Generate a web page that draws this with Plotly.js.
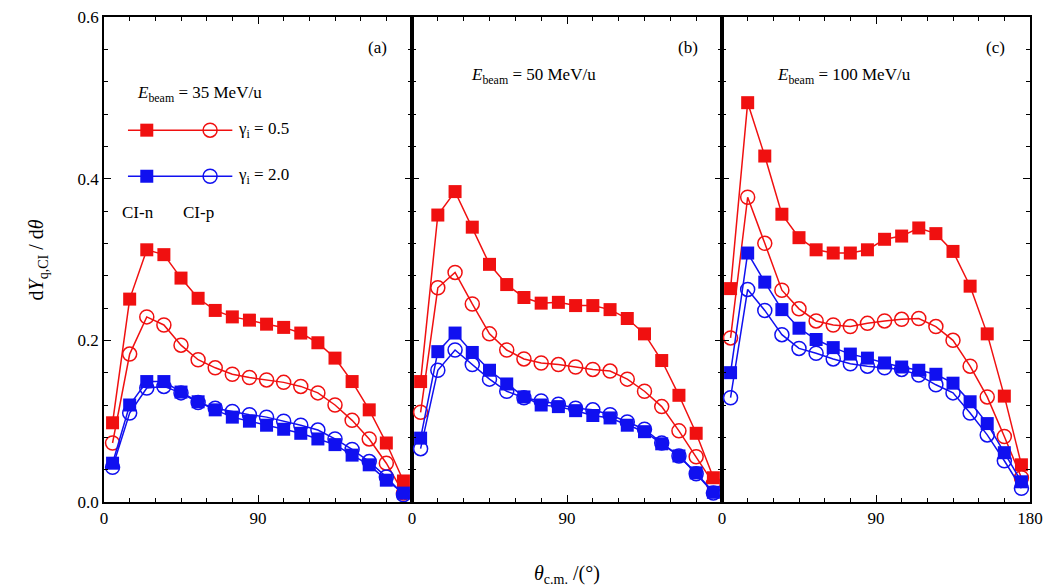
<!DOCTYPE html>
<html>
<head>
<meta charset="utf-8">
<script src="https://cdn.plot.ly/plotly-3.0.1.min.js"></script>
<style>body{margin:0;background:#fff}#chart{width:1048px;height:588px}</style>
</head>
<body>
<div id="chart"></div>
<script>
// scattering angle (deg), same for all panels
var theta = [5, 15, 25, 35, 45, 55, 65, 75, 85, 95, 105, 115, 125, 135, 145, 155, 165, 175];

// (a) Ebeam = 35 MeV/u
var aNsmall = [0.098, 0.251, 0.312, 0.306, 0.277, 0.252, 0.237, 0.229, 0.225, 0.220, 0.216, 0.209, 0.197, 0.178, 0.149, 0.114, 0.073, 0.026];
var aPsmall = [0.073, 0.183, 0.229, 0.219, 0.194, 0.176, 0.166, 0.158, 0.154, 0.151, 0.148, 0.143, 0.135, 0.120, 0.101, 0.078, 0.048, 0.011];
var aNbig   = [0.048, 0.120, 0.149, 0.149, 0.136, 0.124, 0.114, 0.105, 0.100, 0.095, 0.090, 0.085, 0.078, 0.071, 0.058, 0.046, 0.027, 0.011];
var aPbig   = [0.043, 0.110, 0.141, 0.143, 0.135, 0.123, 0.116, 0.112, 0.108, 0.105, 0.100, 0.095, 0.089, 0.078, 0.065, 0.050, 0.031, 0.009];

// (b) Ebeam = 50 MeV/u
var bNsmall = [0.149, 0.355, 0.384, 0.340, 0.294, 0.269, 0.253, 0.246, 0.247, 0.243, 0.243, 0.238, 0.227, 0.208, 0.175, 0.132, 0.085, 0.030];
var bPsmall = [0.111, 0.265, 0.284, 0.245, 0.208, 0.188, 0.177, 0.172, 0.170, 0.167, 0.164, 0.162, 0.152, 0.137, 0.118, 0.088, 0.056, 0.023];
var bNbig   = [0.079, 0.186, 0.209, 0.185, 0.163, 0.146, 0.130, 0.120, 0.118, 0.113, 0.107, 0.104, 0.095, 0.087, 0.072, 0.057, 0.036, 0.012];
var bPbig   = [0.066, 0.163, 0.188, 0.170, 0.152, 0.137, 0.129, 0.125, 0.121, 0.116, 0.114, 0.108, 0.099, 0.090, 0.073, 0.057, 0.035, 0.011];

// (c) Ebeam = 100 MeV/u
var cNsmall = [0.264, 0.494, 0.428, 0.356, 0.327, 0.312, 0.308, 0.308, 0.312, 0.325, 0.329, 0.339, 0.332, 0.310, 0.267, 0.208, 0.131, 0.046];
var cPsmall = [0.203, 0.377, 0.320, 0.262, 0.239, 0.224, 0.219, 0.217, 0.221, 0.224, 0.226, 0.227, 0.217, 0.200, 0.168, 0.130, 0.081, 0.030];
var cNbig   = [0.160, 0.308, 0.272, 0.238, 0.215, 0.201, 0.191, 0.183, 0.178, 0.172, 0.167, 0.163, 0.158, 0.147, 0.124, 0.097, 0.061, 0.025];
var cPbig   = [0.129, 0.263, 0.237, 0.207, 0.190, 0.184, 0.177, 0.171, 0.168, 0.166, 0.164, 0.157, 0.145, 0.135, 0.110, 0.083, 0.051, 0.017];

var RED = "#f01010", BLUE = "#1010f0";
var FONT = "Liberation Serif";

function series(y, xa, ya, color, filled) {
  return {
    x: theta, y: y, xaxis: xa, yaxis: ya, type: "scatter", mode: "lines+markers",
    showlegend: false,
    line: {color: color, width: 1.5},
    marker: filled
      ? {symbol: "square", size: 13, color: color}
      : {symbol: "circle-open", size: 14, color: color, line: {width: 1.5, color: color}}
  };
}

var data = [
  series(aPsmall, "x", "y", RED, false), series(aPbig, "x", "y", BLUE, false),
  series(aNsmall, "x", "y", RED, true), series(aNbig, "x", "y", BLUE, true),
  series(bPsmall, "x2", "y2", RED, false), series(bPbig, "x2", "y2", BLUE, false),
  series(bNsmall, "x2", "y2", RED, true), series(bNbig, "x2", "y2", BLUE, true),
  series(cPsmall, "x3", "y3", RED, false), series(cPbig, "x3", "y3", BLUE, false),
  series(cNsmall, "x3", "y3", RED, true), series(cNbig, "x3", "y3", BLUE, true)
];

// hand-drawn legend inside panel (a)
var legX = [14, 25, 62, 75];
var legRows = [0.46, 0.403];
[[RED, legRows[0]], [BLUE, legRows[1]]].forEach(function (r) {
  data.push({x: [legX[0], legX[3]], y: [r[1], r[1]], xaxis: "x", yaxis: "y", mode: "lines",
    line: {color: r[0], width: 1.5}, showlegend: false, hoverinfo: "skip"});
  data.push({x: [legX[1]], y: [r[1]], xaxis: "x", yaxis: "y", mode: "markers",
    marker: {symbol: "square", size: 13, color: r[0]}, showlegend: false});
  data.push({x: [legX[2]], y: [r[1]], xaxis: "x", yaxis: "y", mode: "markers",
    marker: {symbol: "circle-open", size: 14, color: r[0], line: {width: 1.5, color: r[0]}}, showlegend: false});
});

function xax(domain, ticks) {
  return {
    domain: domain, range: [0, 180], tickvals: ticks, ticktext: ticks.map(String),
    ticks: "inside", ticklen: 7, tickcolor: "#000", mirror: "ticks",
    showline: true, linecolor: "#000", linewidth: 1.5, showgrid: false, zeroline: false,
    minor: {dtick: 15, ticks: "inside", ticklen: 4, tickcolor: "#000"},
    tickfont: {family: FONT, size: 17, color: "#000"}
  };
}
function yax(anchor, labels) {
  return {
    anchor: anchor, range: [0, 0.6], tickvals: [0, 0.2, 0.4, 0.6],
    ticktext: ["0.0", "0.2", "0.4", "0.6"], showticklabels: labels,
    ticks: "inside", ticklen: 7, tickcolor: "#000", mirror: "ticks",
    showline: true, linecolor: "#000", linewidth: 1.5, showgrid: false, zeroline: false,
    minor: {dtick: 0.04, ticks: "inside", ticklen: 4, tickcolor: "#000"},
    tickfont: {family: FONT, size: 17, color: "#000"}
  };
}

var W = 926;
var layout = {
  width: 1048, height: 588,
  margin: {l: 104, r: 18, t: 17, b: 86},
  paper_bgcolor: "#fff", plot_bgcolor: "#fff",
  font: {family: FONT, size: 17, color: "#000"},
  xaxis: xax([0, 308 / W], [0, 90]),
  xaxis2: xax([308 / W, 618 / W], [0, 90]),
  xaxis3: xax([618 / W, 1], [0, 90, 180]),
  yaxis: yax("x", true),
  yaxis2: yax("x2", false),
  yaxis3: yax("x3", false),
  annotations: [
    {xref: "x", yref: "y", x: 160, y: 0.562, text: "(a)", showarrow: false},
    {xref: "x2", yref: "y2", x: 160, y: 0.562, text: "(b)", showarrow: false},
    {xref: "x3", yref: "y3", x: 160, y: 0.562, text: "(c)", showarrow: false},
    {xref: "x", yref: "y", x: 18, y: 0.505, xanchor: "left", showarrow: false,
      text: "<i>E</i><sub>beam</sub> = 35 MeV/u"},
    {xref: "x2", yref: "y2", x: 33, y: 0.527, xanchor: "left", showarrow: false,
      text: "<i>E</i><sub>beam</sub> = 50 MeV/u"},
    {xref: "x3", yref: "y3", x: 31, y: 0.527, xanchor: "left", showarrow: false,
      text: "<i>E</i><sub>beam</sub> = 100 MeV/u"},
    {xref: "x", yref: "y", x: 77, y: legRows[0], xanchor: "left", showarrow: false,
      text: "γ<sub>i</sub> = 0.5"},
    {xref: "x", yref: "y", x: 77, y: legRows[1], xanchor: "left", showarrow: false,
      text: "γ<sub>i</sub> = 2.0"},
    {xref: "x", yref: "y", x: 20, y: 0.358, showarrow: false, text: "CI-n"},
    {xref: "x", yref: "y", x: 55, y: 0.358, showarrow: false, text: "CI-p"},
    {xref: "paper", yref: "paper", x: -0.087, y: 0.5, textangle: -90, showarrow: false,
      text: "d<i>Y</i><sub>q,CI</sub> / d<i>θ</i>", font: {size: 20}},
    {xref: "paper", yref: "paper", x: 0.5, y: -0.15, yanchor: "middle", showarrow: false,
      text: "<i>θ</i><sub>c.m.</sub> /(°)", font: {size: 20}}
  ]
};

Plotly.newPlot("chart", data, layout, {displayModeBar: false});
</script>
</body>
</html>
